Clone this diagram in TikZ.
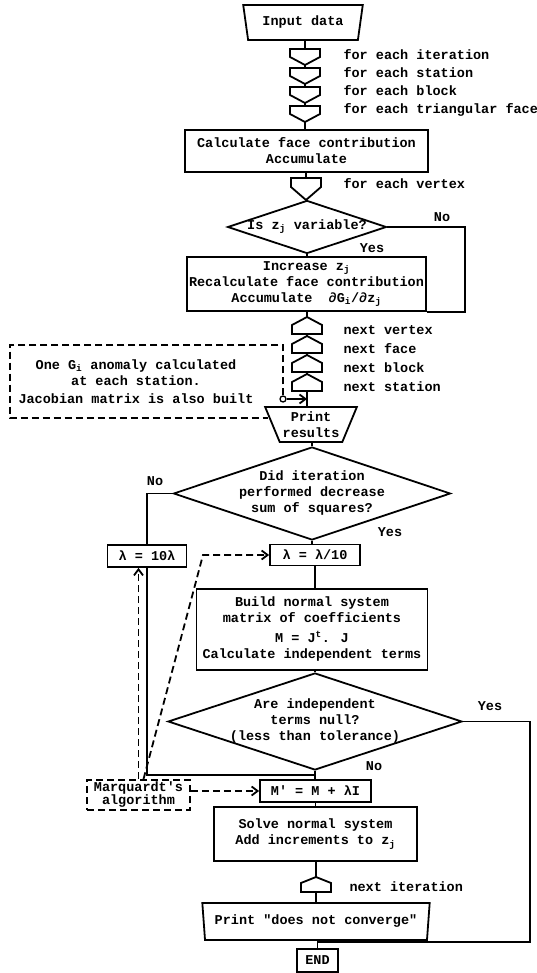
\documentclass[tikz,border=0pt]{standalone}
\usepackage{fontspec}
\setmainfont{Liberation Mono}[Ligatures=TeXOff]
\usetikzlibrary{arrows.meta, shapes.geometric, calc}

\tikzset{
  pics/loopin/.style n args={2}{code={
    \draw[line width=1.8pt] (-15,-#1) -- (-15,#1-#2) -- (0,#1) -- (15,#1-#2) -- (15,-#1) -- cycle;
    \coordinate (-top) at (0,-#1);
    \coordinate (-tip) at (0,#1);
  }},
  pics/loopout/.style n args={2}{code={
    \draw[line width=1.8pt] (0,-#1) -- (15,-#1+#2) -- (15,#1) -- (-15,#1) -- (-15,-#1+#2) -- cycle;
    \coordinate (-tip) at (0,-#1);
    \coordinate (-base) at (0,#1);
  }}
}

\begin{document}
\begin{tikzpicture}[
  x=1pt, y=-1pt,
  font=\bfseries\fontsize{13.5}{16}\selectfont,
  flow/.style={line width=1.8pt},
  box/.style={draw, flow, inner sep=1pt, align=center},
  io/.style={draw, flow, trapezium, shape border rotate=180,
             trapezium stretches=true, align=center, inner sep=0pt},
  test/.style={draw, flow, diamond, inner sep=0pt},
  note/.style={line width=1.8pt, dash pattern=on 7pt off 4pt},
  darr/.style={note, -{Straight Barb[length=6pt, width=9pt]}},
  lbl/.style={anchor=west}
]
  \useasboundingbox (0,0) rectangle (536,973);

  % gravity model: forward computation
  \node[io, trapezium angle=74, minimum width=120, minimum height=35] (inp) at (303,22.5) {Input data};
  \pic (fe1) at (305,57) {loopin={8}{8}};
  \pic (fe2) at (305,76) {loopin={8}{8}};
  \pic (fe3) at (305,95) {loopin={8}{8}};
  \pic (fe4) at (305,114) {loopin={8}{8}};
  \node[lbl] (t1) at (340,55) {for each iteration};
  \node[lbl] (t2) at (340,73) {for each station};
  \node[lbl] (t3) at (340,91) {for each block};
  \node[lbl] (t4) at (340,110) {for each triangular face};

  \node[box, minimum width=243, minimum height=42] (calc) at (306.5,151)
    {Calculate face contribution\\Accumulate};
  \pic (fv) at (306,189) {loopin={11}{13}};
  \node[lbl] (t5) at (340,184) {for each vertex};
  \node[test, minimum width=159, minimum height=53,
        label={center:Is z\textsubscript{j} variable?}] (d1) at (307,227) {};
  \node[box, minimum width=239, minimum height=54] (inc) at (306.5,284)
    {Increase z\textsubscript{j}\\Recalculate face contribution\\Accumulate\ \ ∂G\textsubscript{i}/∂z\textsubscript{j}};

  \pic (ne1) at (307,325.5) {loopout={8.5}{8}};
  \pic (ne2) at (307,344.5) {loopout={8.5}{8}};
  \pic (ne3) at (307,363.5) {loopout={8.5}{8}};
  \pic (ne4) at (307,382.5) {loopout={8.5}{8}};
  \node[lbl] (t6) at (340,330) {next vertex};
  \node[lbl] (t7) at (340,349) {next face};
  \node[lbl] (t8) at (340,368) {next block};
  \node[lbl] (t9) at (340,387) {next station};

  \node[io, trapezium angle=63, minimum width=92, minimum height=35] (prt) at (311,424.5) {Print\\results};
  \node[circle, draw, line width=1.3pt, inner sep=0pt, minimum size=6] (jn) at (283,399) {};
  \node[align=center] (gtxt) at (136,382)
    {One G\textsubscript{i} anomaly calculated\\at each station.\\[2pt]Jacobian matrix is also built};

  % inversion loop
  \node[test, minimum width=277, minimum height=93,
        label={[align=center]center:Did iteration\\performed decrease\\sum of squares?}] (d2) at (312,493.5) {};
  \node[box, minimum width=79, minimum height=22] (lam1) at (147,556) {λ = 10λ};
  \node[box, minimum width=90, minimum height=21] (lam2) at (315,555) {λ = λ/10};
  \node[box, minimum width=231, minimum height=81] (bld) at (312,629.5)
    {Build normal system\\matrix of coefficients\\[4pt]M = J\textsuperscript{t}. J\\Calculate independent terms};
  \node[test, minimum width=294, minimum height=97,
        label={[align=center]center:Are independent\\terms null?\\(less than tolerance)}] (d3) at (315,721.5) {};
  \node[box, minimum width=111, minimum height=22] (mpr) at (315.5,791) {M' = M + λI};
  \node[box, minimum width=203, minimum height=54] (slv) at (315.5,834)
    {Solve normal system\\Add increments to z\textsubscript{j}};
  \pic (nit) at (316,884.5) {loopout={7.5}{6}};
  \node[lbl] (t10) at (346,887) {next iteration};
  \node[io, trapezium angle=79, minimum width=228, minimum height=37] (pdc) at (316,921.5)
    {Print "does not converge"};
  \node[box, minimum width=41, minimum height=23] (fin) at (317.5,960.5) {END};
  \node[draw, note, align=center, minimum width=103, minimum height=30, inner sep=1pt] (mq) at (138.5,795)
    {Marquardt's\\[-3pt]algorithm};

  % branch labels
  \node (no1) at (442,217) {No};
  \node (yes1) at (372,248) {Yes};
  \node (no2) at (155,481) {No};
  \node (yes2) at (390,532) {Yes};
  \node (yes3) at (490,706) {Yes};
  \node (no3) at (374,766) {No};

  % main flow
  \draw[flow] (inp.south -| fe1-top) -- (fe1-top);
  \draw[flow] (fe1-tip) -- (fe2-top);
  \draw[flow] (fe2-tip) -- (fe3-top);
  \draw[flow] (fe3-tip) -- (fe4-top);
  \draw[flow] (fe4-tip) -- (fe4-tip |- calc.north);
  \draw[flow] (calc.south -| fv-top) -- (fv-top);
  \draw[flow] (fv-tip) -- (d1.north);
  \draw[flow] (d1.south) -- (d1.south |- inc.north);
  \draw[flow] (inc.south -| ne1-tip) -- (ne1-tip);
  \draw[flow] (ne1-base) -- (ne2-tip);
  \draw[flow] (ne2-base) -- (ne3-tip);
  \draw[flow] (ne3-base) -- (ne4-tip);
  \draw[flow] (ne4-base) -- (ne4-base |- prt.north);
  \draw[flow, -{Straight Barb[length=6pt, width=9pt]}] (jn.east) -- (jn -| ne4-base);
  \draw[flow] (d2.north) -- (d2.north |- prt.south);
  \draw[flow] (d2.south) -- (d2.south |- lam2.north);
  \draw[flow] (lam2.south) -- (lam2.south |- bld.north);
  \draw[flow] (bld.south -| d3.north) -- (d3.north);
  \draw[flow] (d3.south) -- (d3.south |- mpr.north);
  \draw[flow] (mpr.south) -- (mpr.south |- slv.north);
  \draw[flow] (slv.south -| nit-tip) -- (nit-tip);
  \draw[flow] (nit-base) -- (nit-base |- pdc.north);
  \draw[flow] (pdc.south -| fin.north) -- (fin.north);

  % branches
  \coordinate (r1) at ([xshift=38pt]inc.south east);
  \draw[flow] (d1.east) -| (r1) -- (inc.south east);
  \draw[flow] (d2.west) -| (lam1.north);
  \coordinate (mj) at ($(d3.south)!0.5!(mpr.north)$);
  \draw[flow] (lam1.south) |- (mj);
  \coordinate (r3) at (530,942);
  \coordinate (ej) at (r3 -| fin.north);
  \draw[flow] (d3.east) -| (r3) -- (ej);

  % dashed notes
  \coordinate (ntr) at (283,345);
  \coordinate (ntl) at (10,345);
  \coordinate (nbl) at (10,418);
  \draw[note] (jn.north) -- (ntr) -- (ntl) -- (nbl) -- ($(nbl -| prt.west)+(-3,0)$);
  \draw[darr] (mpr.west -| mq.east) -- (mpr.west);
  \draw[darr] (mq.north) -- (mq.north |- lam1.south);
  \coordinate (dk) at (203,555);
  \draw[darr] ($(mq.north)+(5,0)$) -- (dk) -- (lam2.west);
\end{tikzpicture}
\end{document}
